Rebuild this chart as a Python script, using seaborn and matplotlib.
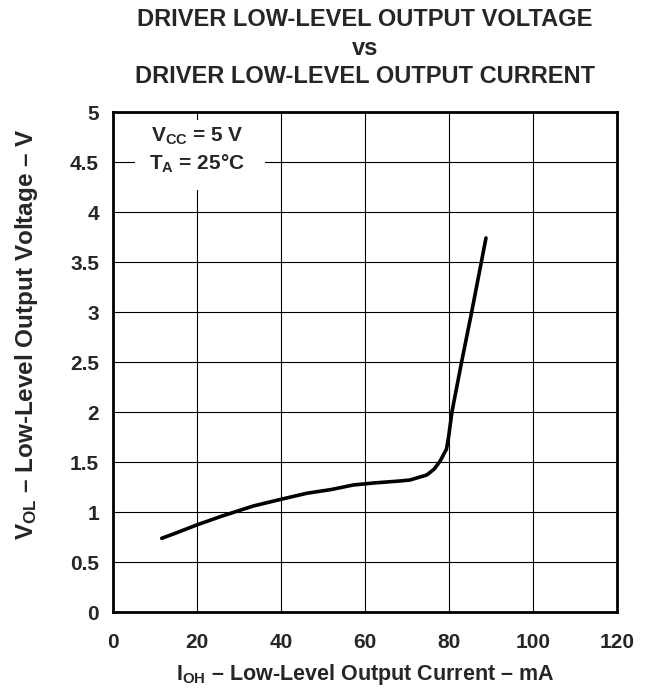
import matplotlib
matplotlib.use("Agg")
import matplotlib.pyplot as plt
import seaborn as sns
import pandas as pd
from matplotlib.patches import Rectangle

# ---- data ----
current_mA = [11.6, 15.0, 19.9, 26.0, 33.4, 40.0, 46.1, 52.0, 57.2, 62.0,
              68.3, 70.7, 73.1, 74.7, 76.5, 77.9, 79.4, 79.9, 80.7, 83.0,
              85.4, 87.7, 88.8]
voltage_V = [0.737, 0.79, 0.87, 0.96, 1.06, 1.127, 1.187, 1.225, 1.27, 1.29,
             1.31, 1.32, 1.35, 1.37, 1.43, 1.51, 1.63, 1.75, 2.0, 2.5,
             3.0, 3.5, 3.74]
x_ticks = [0, 20, 40, 60, 80, 100, 120]
y_ticks = [0, 0.5, 1, 1.5, 2, 2.5, 3, 3.5, 4, 4.5, 5]
y_tick_labels = ["0", "0.5", "1", "1.5", "2", "2.5", "3", "3.5", "4", "4.5", "5"]
title_lines = ["DRIVER LOW-LEVEL OUTPUT VOLTAGE", "vs",
               "DRIVER LOW-LEVEL OUTPUT CURRENT"]

df = pd.DataFrame({"I": current_mA, "V": voltage_V})

sns.set_style("white")
plt.rcParams["font.family"] = ["Liberation Sans", "DejaVu Sans"]
plt.rcParams["font.weight"] = "bold"
plt.rcParams["mathtext.fontset"] = "custom"
plt.rcParams["mathtext.rm"] = "Liberation Sans:bold"
plt.rcParams["mathtext.it"] = "Liberation Sans:bold"
plt.rcParams["mathtext.bf"] = "Liberation Sans:bold"
plt.rcParams["mathtext.sf"] = "Liberation Sans:bold"

W, H = 649, 689
fig = plt.figure(figsize=(W / 100, H / 100), dpi=100)
ax = fig.add_axes([113 / W, 1 - 612 / H, (617 - 113) / W, (612 - 112) / H])

sns.lineplot(data=df, x="I", y="V", ax=ax, color="black", linewidth=2.6,
             solid_capstyle="round", zorder=5, sort=False)

ax.set_xlim(0, 120)
ax.set_ylim(0, 5)
ax.set_xticks(x_ticks)
ax.set_yticks(y_ticks)
ax.set_xticklabels([str(t) for t in x_ticks], fontsize=15, fontweight="bold")
ax.set_yticklabels(y_tick_labels, fontsize=15, fontweight="bold")
ax.tick_params(axis="x", length=0, pad=15)
ax.tick_params(axis="y", length=0, pad=10)
ax.grid(True, color="black", linewidth=0.8)
ax.set_axisbelow(True)
for s in ax.spines.values():
    s.set_visible(True)
    s.set_color("black")
    s.set_linewidth(2.0)
ax.set_xlabel("")
ax.set_ylabel("")

# white box behind the condition text
ax.add_patch(Rectangle((5.2, 4.22), 31.0, 0.70, facecolor="white",
                       edgecolor="none", zorder=2))
ax.text(20.0, 4.70, r"$\mathrm{V_{CC}}$ = 5 V", ha="center", va="baseline",
        fontsize=15, fontweight="bold", zorder=6)
ax.text(20.0, 4.42, r"$\mathrm{T_{A}}$ = 25°C", ha="center", va="baseline",
        fontsize=15, fontweight="bold", zorder=6)

# title
cx = 365 / W
for txt, yb in zip(title_lines, [26, 55, 83]):
    fig.text(cx, 1 - yb / H, txt, ha="center", va="baseline",
             fontsize=17, fontweight="bold")

fig.text(cx, 1 - 680 / H, r"$\mathrm{I_{OH}}$ – Low-Level Output Current – mA",
         ha="center", va="baseline", fontsize=15.5, fontweight="bold")
fig.text(27 / W, 1 - 334 / H, r"$\mathrm{V_{OL}}$ – Low-Level Output Voltage – V",
         ha="center", va="center", rotation=90, fontsize=17.5, fontweight="bold")

fig.savefig("out.png", dpi=100)
